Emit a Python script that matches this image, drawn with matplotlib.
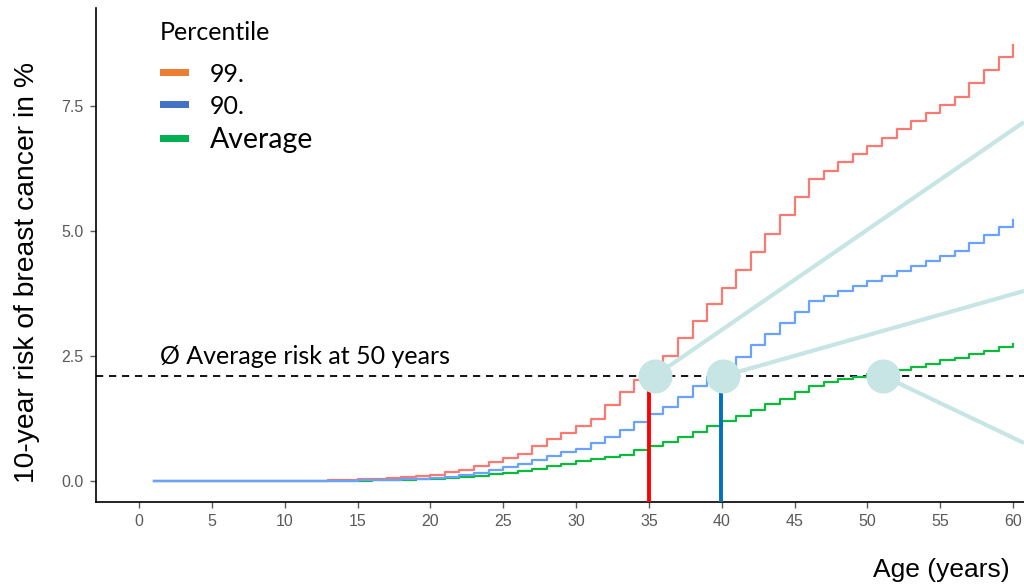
import matplotlib
matplotlib.use("Agg")
import matplotlib.pyplot as plt
import numpy as np

ages = list(range(1, 61))

risk_p99 = [0]*11 + [0.01, 0.02, 0.03, 0.04, 0.05, 0.07, 0.09, 0.11, 0.13,
                     0.18, 0.23, 0.30, 0.39, 0.47, 0.55, 0.70, 0.84, 0.97, 1.11,
                     1.25, 1.52, 1.78, 2.02, 2.27, 2.51, 2.87, 3.21, 3.54, 3.87,
                     4.22, 4.58, 4.95, 5.32, 5.69, 6.05, 6.21, 6.38, 6.55, 6.70,
                     6.86, 7.04, 7.21, 7.37, 7.53, 7.69, 7.97, 8.22, 8.49, 8.73]
risk_p90 = [0]*11 + [0.005, 0.008, 0.01, 0.015, 0.02, 0.03, 0.04, 0.05, 0.07,
                     0.09, 0.13, 0.17, 0.23, 0.29, 0.35, 0.42, 0.50, 0.59, 0.65,
                     0.77, 0.89, 1.03, 1.19, 1.35, 1.49, 1.69, 1.90, 2.09, 2.30,
                     2.49, 2.72, 2.94, 3.17, 3.39, 3.61, 3.71, 3.80, 3.90, 4.01,
                     4.10, 4.21, 4.30, 4.41, 4.50, 4.60, 4.77, 4.93, 5.09, 5.22]
risk_avg = [0]*12 + [0.003, 0.005, 0.01, 0.015, 0.02, 0.03, 0.04, 0.05,
                     0.07, 0.09, 0.11, 0.14, 0.17, 0.21, 0.25, 0.30, 0.35, 0.40,
                     0.44, 0.48, 0.53, 0.62, 0.71, 0.79, 0.89, 0.99, 1.10, 1.21,
                     1.30, 1.42, 1.54, 1.65, 1.79, 1.90, 1.99, 2.05, 2.09, 2.14,
                     2.18, 2.22, 2.29, 2.35, 2.42, 2.47, 2.54, 2.61, 2.69, 2.75]

legend_title = "Percentile"
legend_labels = ["99.", "90.", "Average"]
legend_colors = ["#ED7D31", "#4472C4", "#00B050"]
curve_colors = ["#FA7A72", "#6AA2FF", "#0CBB3E"]

avg_risk_50 = 2.1
ref_label = "Ø Average risk at 50 years"
marker_ages = [35.4, 40.1, 51.1]
vline_ages = [35.0, 39.95]
vline_colors = ["#FF0000", "#0070C0"]
connector_ends = [(60.75, 7.18), (60.75, 3.80), (60.75, 0.76)]

xticks = list(range(0, 61, 5))
yticks = [0.0, 2.5, 5.0, 7.5]
ytick_labels = ["0.0", "2.5", "5.0", "7.5"]

fig = plt.figure(figsize=(10.24, 5.86), dpi=100)
ax = fig.add_axes([96/1024, 84/586, 928/1024, 494/586])
ax.set_xlim(-2.95, 60.75)
ax.set_ylim(-0.42, 9.46)

teal = "#C6E5E4"
for (xe, ye), xm in zip(connector_ends, marker_ages):
    ax.plot([xm, xe], [avg_risk_50, ye], color=teal, lw=3.0, zorder=2,
            clip_on=False, solid_capstyle="butt")

ax.axhline(avg_risk_50, color="black", lw=1.3, ls=(0, (4, 3.2)), zorder=3)

ax.step(ages, risk_p99, where="post", color=curve_colors[0], lw=1.6, zorder=4)
ax.step(ages, risk_avg, where="post", color=curve_colors[2], lw=1.6, zorder=4)
ax.step(ages, risk_p90, where="post", color=curve_colors[1], lw=1.6, zorder=4)

for xa, c in zip(vline_ages, vline_colors):
    ax.plot([xa, xa], [-0.42, avg_risk_50], color=c, lw=2.8, zorder=5,
            solid_capstyle="butt")

ax.plot(marker_ages, [avg_risk_50]*3, "o", color=teal, ms=24.5, zorder=6,
        markeredgewidth=0)

ax.text(1.45, 2.27, ref_label, fontsize=18, family="Lato", color="black",
        va="bottom", ha="left")

for s in ["top", "right"]:
    ax.spines[s].set_visible(False)
for s in ["left", "bottom"]:
    ax.spines[s].set_linewidth(1.2)
    ax.spines[s].set_color("black")

ax.set_xticks(xticks)
ax.set_yticks(yticks)
ax.set_yticklabels(ytick_labels)
ax.tick_params(axis="both", colors="#5A5A5A", labelsize=11.5, length=4, width=1,
               labelcolor="#5A5A5A", pad=5)
for lab in ax.get_xticklabels() + ax.get_yticklabels():
    lab.set_family("Liberation Sans")

fig.text(14/1024, 1 - 273/586, "10-year risk of breast cancer in %",
         rotation=90, fontsize=20.3, family="Liberation Sans",
         ha="left", va="center")
fig.text(1010/1024, 1 - 570/586, "Age (years)", fontsize=19,
         family="Liberation Sans", ha="right", va="center")

# legend
fig.text(160/1024, 1 - 33/586, legend_title, fontsize=18, family="Lato",
         ha="left", va="center")
leg_y = [72, 104, 138]
leg_sizes = [18, 18, 20.5]
for yy, lab, col, fs in zip(leg_y, legend_labels, legend_colors, leg_sizes):
    fig.patches.append(plt.Rectangle((160/1024, 1 - (yy + 3.5)/586), 29/1024,
                                     7/586, transform=fig.transFigure,
                                     color=col, lw=0))
    fig.text(210/1024, 1 - (yy + 2)/586, lab, fontsize=fs, family="Lato",
             ha="left", va="center")

fig.savefig("out.png", dpi=100)
